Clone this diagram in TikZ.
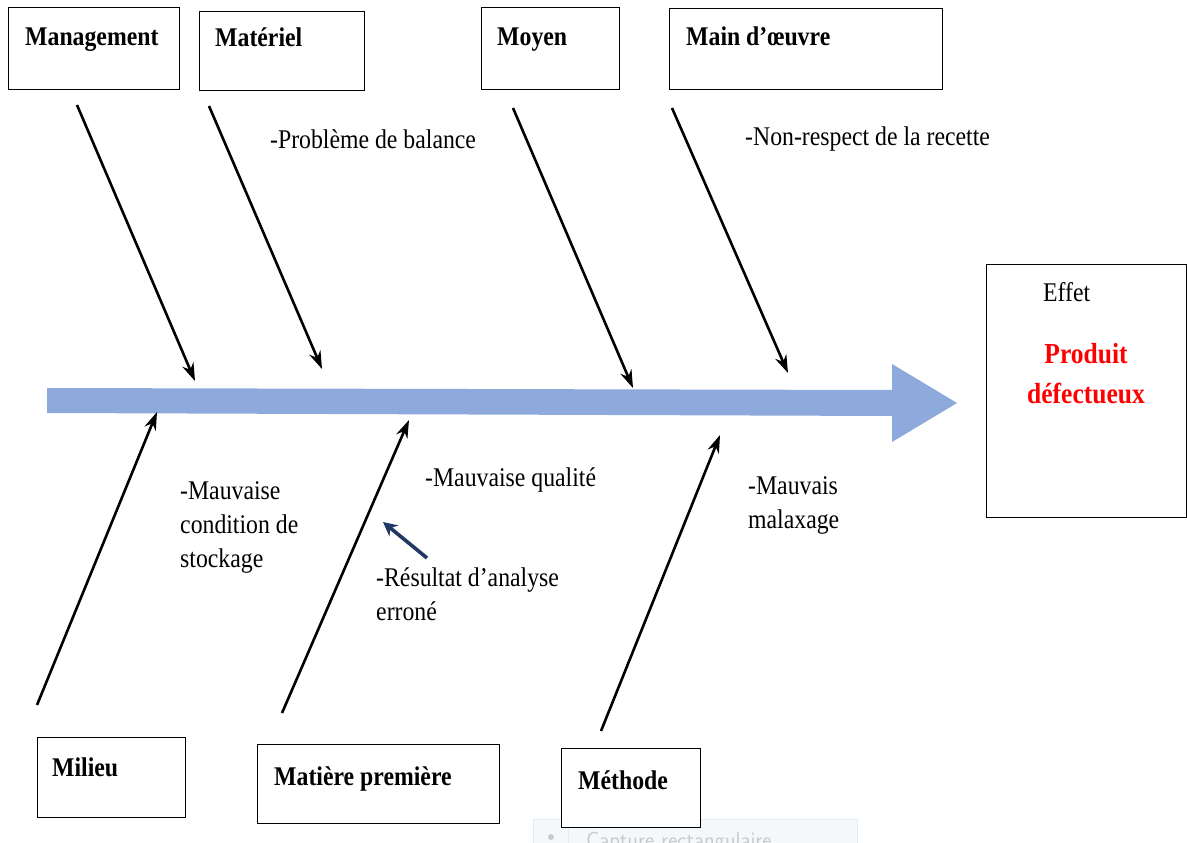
\documentclass[tikz,border=0pt]{standalone}
\usepackage{fontspec}
\setmainfont{Liberation Serif}[FakeStretch=0.88]
\usetikzlibrary{arrows.meta}
\definecolor{spine}{HTML}{8EA9DB}
\definecolor{navy}{HTML}{1F3864}
\definecolor{ghostfill}{HTML}{F5F8FB}
\definecolor{ghostline}{HTML}{E4EBF1}
\definecolor{ghosttext}{HTML}{CACACA}
\begin{document}
\begin{tikzpicture}[x=1pt,y=-1pt,
  box/.style={draw, line width=1.4pt, anchor=north west, inner sep=0, fill=white},
  cat/.style={anchor=base west, font=\fontsize{27}{33}\selectfont\bfseries, inner sep=0},
  cause/.style={anchor=base west, font=\fontsize{27}{34}\selectfont, inner sep=0, align=left},
  bone/.style={line width=2.6pt, -{Stealth[length=18pt,width=12pt]}}]
\useasboundingbox (0,0) rectangle (1187,843);
% screen-capture artefact (behind everything)
\begin{scope}
\clip (0,0) rectangle (1187,843);
\filldraw[fill=ghostfill, draw=ghostline] (533,819) rectangle (857,860);
\draw[ghostline] (568,819) -- (568,860);
\fill[ghosttext] (551,837) circle (3);
\node[anchor=base west, inner sep=0, text=ghosttext, font=\sffamily\fontsize{22}{26}\selectfont] (cap) at (586,847) {Capture rectangulaire};
\end{scope}
% spine arrow
\fill[spine] (47,388) -- (892,390) -- (892,364) -- (957,403) -- (892,442) -- (892,416) -- (47,413) -- cycle;
% effect box
\node[box, minimum width=200, minimum height=253] (effet) at (986,264) {};
\node[cause] (effetlbl) at (1043,301) {Effet};
\node[anchor=base, inner sep=0, text=red, align=center, font=\fontsize{29}{40}\selectfont\bfseries] (prod) at (1086,403) {Produit\\défectueux};
% top boxes
\node[box, minimum width=171, minimum height=82] (mgmt) at (8,7) {};
\node[cat] at (25,46) {Management};
\node[box, minimum width=165, minimum height=79] (mat) at (199,11) {};
\node[cat] at (215,47) {Matériel};
\node[box, minimum width=138, minimum height=82] (moy) at (481,7) {};
\node[cat] at (497,46) {Moyen};
\node[box, minimum width=273, minimum height=81] (mo) at (669,8) {};
\node[cat] at (686,46) {Main d’œuvre};
% bottom boxes
\node[box, minimum width=148, minimum height=80] (mil) at (37,737) {};
\node[cat] at (52,776) {Milieu};
\node[box, minimum width=242, minimum height=79] (mp) at (257,744) {};
\node[cat] at (274,785) {Matière première};
\node[box, minimum width=139, minimum height=79] (meth) at (561,748) {};
\node[cat] at (578,789) {Méthode};
% coordinates for bones
\coordinate (mgmtS) at (77,105);  \coordinate (mgmtE) at (195,381);
\coordinate (matS) at (209,106);  \coordinate (matE) at (322,369);
\coordinate (moyS) at (513,108);  \coordinate (moyE) at (633,388);
\coordinate (moS) at (672,108);   \coordinate (moE) at (788,373);
\coordinate (milS) at (37,705);   \coordinate (milE) at (157,412);
\coordinate (mpS) at (282,713);   \coordinate (mpE) at (409,420);
\coordinate (methS) at (601,731); \coordinate (methE) at (720,435);
\draw[bone] (mgmtS) -- (mgmtE);
\draw[bone] (matS) -- (matE);
\draw[bone] (moyS) -- (moyE);
\draw[bone] (moS) -- (moE);
\draw[bone] (milS) -- (milE);
\draw[bone] (mpS) -- (mpE);
\draw[bone] (methS) -- (methE);
% causes (base = last line)
\node[cause] (c1) at (270,148) {-Problème de balance};
\node[cause] (c2) at (745,145) {-Non-respect de la recette};
\node[cause] (c3) at (180,567) {-Mauvaise\\condition de\\stockage};
\node[cause] (c4) at (425,486) {-Mauvaise qualité};
\node[cause] (c5) at (748,528) {-Mauvais\\malaxage};
\node[cause] (c6) at (376,620) {-Résultat d’analyse\\erroné};
\coordinate (nS) at (427,558); \coordinate (nE) at (383,522);
\draw[navy, line width=3.6pt, -{Stealth[length=14pt,width=14pt]}] (nS) -- (nE);
\end{tikzpicture}
\end{document}
